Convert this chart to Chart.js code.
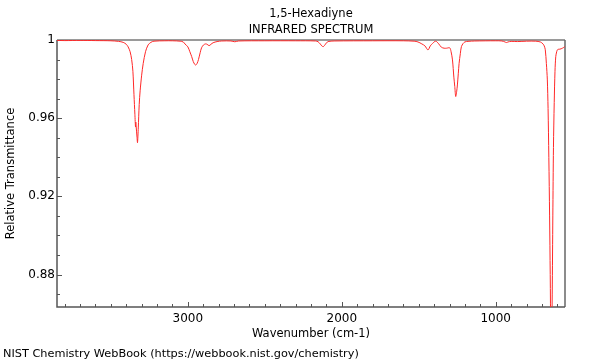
<!DOCTYPE html>
<html>
<head>
<meta charset="utf-8">
<title>1,5-Hexadiyne IR</title>
<script src="https://cdn.jsdelivr.net/npm/chart.js@4"></script>
<style>
  html, body { margin: 0; padding: 0; background: #fff; }
  #irChart { display: block; }
</style>
</head>
<body>
<canvas id="irChart" width="600" height="360"></canvas>
<script>
// Data (cm-1 vs transmitansi relatif)
const wavenumbers = [
  3850, 3800, 3700, 3600, 3500, 3450, 3420, 3400, 3388, 3375, 3365, 3357, 3350, 3344,
  3340, 3338, 3336, 3330, 3327, 3322, 3316, 3310, 3300, 3290, 3275, 3258, 3240, 3220,
  3150, 3100, 3050, 3030, 3019, 3000, 2987, 2975, 2965, 2955, 2948, 2940, 2931, 2920,
  2911, 2898, 2885, 2875, 2862, 2850, 2836, 2810, 2780, 2720, 2695, 2670, 2500, 2300,
  2170, 2154, 2140, 2130, 2121, 2112, 2100, 2089, 2050, 1800, 1600, 1530, 1505, 1480,
  1460, 1440, 1425, 1411, 1390, 1370, 1353, 1335, 1320, 1299, 1290, 1281, 1272, 1266,
  1260, 1254, 1249, 1243, 1238, 1230, 1223, 1212, 1201, 1180, 1136, 1000, 960, 940,
  931, 920, 900, 860, 800, 740, 710, 700, 693, 685, 678, 671, 665, 660,
  655, 650, 646, 642, 637, 633, 629, 625, 620, 615, 610, 604, 599, 590,
  584, 575, 567, 558, 552
];
const transmittance = [
  0.9998, 0.9997, 0.9998, 0.9997, 0.9996, 0.9993, 0.9988, 0.9978, 0.9965, 0.994, 0.990, 0.984, 0.972, 0.962,
  0.9555, 0.958, 0.956, 0.950, 0.9475, 0.955, 0.967, 0.974, 0.982, 0.988, 0.994, 0.9975, 0.9988, 0.9994,
  0.9996, 0.9996, 0.9994, 0.999, 0.998, 0.9965, 0.994, 0.9915, 0.989, 0.9875, 0.9872, 0.988, 0.990, 0.9935,
  0.996, 0.9975, 0.998, 0.9978, 0.9971, 0.9978, 0.9986, 0.9992, 0.9995, 0.9995, 0.9991, 0.9995, 0.9996, 0.9996,
  0.9995, 0.9991, 0.998, 0.997, 0.9966, 0.9972, 0.9985, 0.9992, 0.9995, 0.9996, 0.9996, 0.9994, 0.999, 0.998,
  0.997, 0.9949, 0.997, 0.9982, 0.9994, 0.998, 0.9963, 0.9958, 0.9958, 0.996, 0.994, 0.9898, 0.981, 0.9762,
  0.9711, 0.9735, 0.977, 0.983, 0.988, 0.993, 0.9966, 0.9982, 0.999, 0.9993, 0.9995, 0.9996, 0.9995, 0.999,
  0.9987, 0.999, 0.9993, 0.9992, 0.9994, 0.9994, 0.999, 0.9985, 0.998, 0.997, 0.995, 0.988, 0.980, 0.965,
  0.940, 0.910, 0.880, 0.850, 0.845, 0.870, 0.910, 0.945, 0.968, 0.984, 0.9915, 0.994, 0.995, 0.9953,
  0.9953, 0.9955, 0.9958, 0.9962, 0.9966
];

// Label sumbu
const xTickLabels = [3000, 2000, 1000];
const yTickLabels = [1, 0.96, 0.92, 0.88];
const xMinorStep = 100;
const yMinorStep = 0.01;

const FONT = "'DejaVu Sans', sans-serif";
const TEXT_FONT = '11.5px ' + FONT;

// Plugin untuk bingkai, tick ke dalam dan teks judul
const framePlugin = {
  id: 'frame',
  beforeDatasetsDraw(chart) {
    const { ctx, chartArea: a, scales } = chart;
    const xs = scales.x, ys = scales.y;
    ctx.save();

    // garis atas dan kanan
    ctx.strokeStyle = '#9a9a9a';
    ctx.lineWidth = 2;
    ctx.beginPath();
    ctx.moveTo(a.left, a.top);
    ctx.lineTo(a.right, a.top);
    ctx.stroke();
    ctx.strokeStyle = '#666';
    ctx.lineWidth = 1.5;
    ctx.beginPath();
    ctx.moveTo(a.right, a.top);
    ctx.lineTo(a.right, a.bottom);
    ctx.stroke();

    // sumbu kiri dan bawah
    ctx.strokeStyle = '#555';
    ctx.lineWidth = 1.5;
    ctx.beginPath();
    ctx.moveTo(a.left, a.top);
    ctx.lineTo(a.left, a.bottom);
    ctx.lineTo(a.right, a.bottom);
    ctx.stroke();

    // tick x
    ctx.lineWidth = 1;
    ctx.beginPath();
    for (let v = Math.ceil(xs.min / xMinorStep) * xMinorStep; v <= xs.max; v += xMinorStep) {
      const px = Math.round(xs.getPixelForValue(v)) + 0.5;
      const len = xTickLabels.includes(v) ? 5 : 3;
      ctx.moveTo(px, a.bottom);
      ctx.lineTo(px, a.bottom - len);
    }
    // tick y
    for (let i = 1; i * yMinorStep + 0.86 < 1.0001; i++) {
      const v = +(0.86 + i * yMinorStep).toFixed(2);
      if (v < ys.min) continue;
      const py = Math.round(ys.getPixelForValue(v)) + 0.5;
      const len = yTickLabels.includes(v) ? 5 : 3;
      ctx.moveTo(a.left, py);
      ctx.lineTo(a.left + len, py);
    }
    ctx.stroke();

    // teks
    ctx.fillStyle = '#000';
    ctx.font = TEXT_FONT;
    ctx.textAlign = 'center';
    ctx.textBaseline = 'alphabetic';
    const cx = (a.left + a.right) / 2;
    ctx.fillText('1,5-Hexadiyne', cx, 17);
    ctx.fillText('INFRARED SPECTRUM', cx, 33);
    ctx.fillText('Wavenumber (cm-1)', cx, 337);

    ctx.textAlign = 'left';
    ctx.font = '11.3px ' + FONT;
    ctx.fillText('NIST Chemistry WebBook (https://webbook.nist.gov/chemistry)', 3, 357);

    ctx.font = TEXT_FONT;
    ctx.save();
    ctx.translate(14, (a.top + a.bottom) / 2);
    ctx.rotate(-Math.PI / 2);
    ctx.textAlign = 'center';
    ctx.fillText('Relative Transmittance', 0, 0);
    ctx.restore();

    ctx.restore();
  }
};

document.addEventListener('DOMContentLoaded', () => {
  const points = wavenumbers.map((w, i) => ({ x: w, y: transmittance[i] }));

  new Chart(document.getElementById('irChart'), {
    type: 'line',
    data: {
      datasets: [{
        data: points,
        borderColor: 'rgb(255, 40, 40)',
        borderWidth: 1,
        pointRadius: 0,
        tension: 0.3,
        fill: false
      }]
    },
    options: {
      responsive: false,
      animation: false,
      layout: { padding: { top: 40, right: 35, left: 0, bottom: 0 } },
      plugins: {
        legend: { display: false },
        tooltip: { enabled: false }
      },
      scales: {
        x: {
          type: 'linear',
          reverse: true,
          min: 550,
          max: 3850,
          grid: { display: false, drawTicks: false },
          border: { display: false },
          afterBuildTicks: scale => { scale.ticks = xTickLabels.map(v => ({ value: v })); },
          afterFit: scale => { scale.height = 53; },
          ticks: {
            color: '#000',
            font: { family: FONT, size: 12 },
            padding: 5,
            maxRotation: 0,
            callback: v => String(v)
          }
        },
        y: {
          min: 0.8634,
          max: 1.0,
          grid: { display: false, drawTicks: false },
          border: { display: false },
          afterBuildTicks: scale => { scale.ticks = yTickLabels.map(v => ({ value: v })); },
          afterFit: scale => { scale.width = 57; },
          ticks: {
            color: '#000',
            font: { family: FONT, size: 12 },
            padding: 2,
            callback: v => String(v)
          }
        }
      }
    },
    plugins: [framePlugin]
  });
});
</script>
</body>
</html>
